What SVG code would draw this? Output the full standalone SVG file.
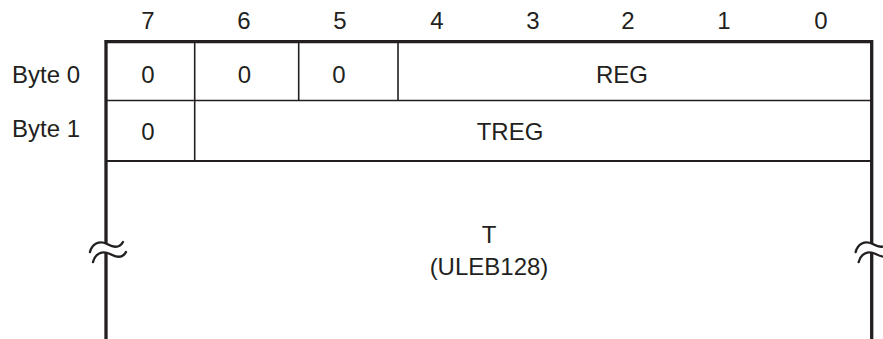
<svg xmlns="http://www.w3.org/2000/svg" width="883" height="339" viewBox="0 0 883 339">
  <style>
    text { font-family: "Liberation Sans", Arial, Helvetica, sans-serif; font-size: 24px; fill: #231f20; }
    .c { text-anchor: middle; }
    .outer { stroke: #231f20; stroke-width: 3.3; fill: none; }
    .inner { stroke: #231f20; stroke-width: 1.6; fill: none; }
    .inner2 { stroke: #231f20; stroke-width: 2.2; fill: none; }
    .wave { stroke: #231f20; stroke-width: 2.4; fill: none; stroke-linecap: round; }
  </style>
  <defs>
    <g id="brk">
      <path class="wave" d="M90,252 C92,244 99,240 107,244 C113,247 119,249 123,242"/>
      <path class="wave" d="M93,262 C95,254 102,250 110,254 C116,257 122,259 126,252"/>
    </g>
  </defs>

  <g id="bit-numbers">
    <text class="c" x="148" y="29">7</text>
    <text class="c" x="244" y="29">6</text>
    <text class="c" x="340" y="29">5</text>
    <text class="c" x="437" y="29">4</text>
    <text class="c" x="533" y="29">3</text>
    <text class="c" x="628" y="29">2</text>
    <text class="c" x="724" y="29">1</text>
    <text class="c" x="821" y="29">0</text>
  </g>

  <g id="row-labels">
    <text x="12" y="83">Byte 0</text>
    <text x="12" y="137">Byte 1</text>
  </g>

  <g id="frame">
    <path class="outer" d="M104.3,41.7 H871.7 V244 M106,41.7 V244"/>
    <path class="outer" d="M106,252 V339 M871.7,252 V339"/>
    <path class="inner" d="M106,100.5 H871.7 M194.7,41.7 V161 M298.7,41.7 V100.5 M398,41.7 V100.5"/>
    <path class="inner2" d="M106,161 H871.7"/>
    <use href="#brk"/>
    <use href="#brk" transform="translate(765.7,0)"/>
  </g>

  <g id="byte0-bit7"><text class="c" x="148" y="83">0</text></g>
  <g id="byte0-bit6"><text class="c" x="244.5" y="83">0</text></g>
  <g id="byte0-bit5"><text class="c" x="339" y="83">0</text></g>
  <g id="byte0-reg"><text class="c" x="622" y="82.5">REG</text></g>
  <g id="byte1-bit7"><text class="c" x="148" y="140">0</text></g>
  <g id="byte1-treg"><text class="c" x="510" y="140">TREG</text></g>
  <g id="t-field">
    <text class="c" x="489" y="243">T</text>
    <text class="c" x="489" y="275">(ULEB128)</text>
  </g>
</svg>
